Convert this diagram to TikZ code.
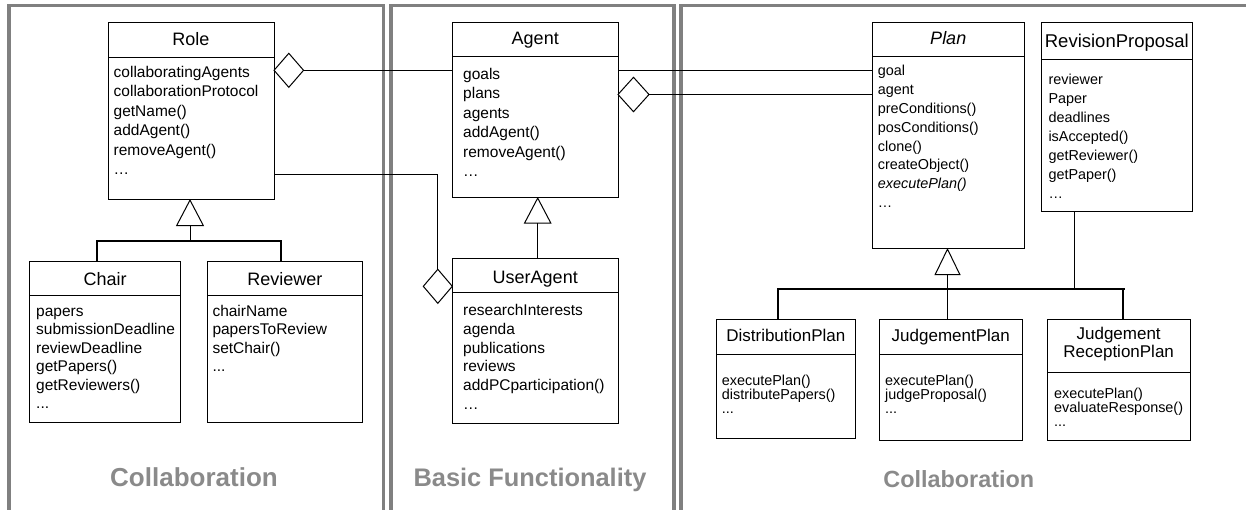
\documentclass[tikz,border=0pt]{standalone}
\usepackage{fontspec}
\setmainfont{Liberation Sans}
\usetikzlibrary{arrows.meta,shapes.geometric}
\definecolor{panelgray}{RGB}{128,128,128}
\definecolor{capgray}{RGB}{138,138,138}
\newcommand\tdots{.\kern0pt.\kern0pt.}
\tikzset{
  cls/.style={draw=black, line width=1pt, rectangle, inner sep=0pt, outer sep=0pt, fill=white},
  divline/.style={draw=black, line width=1pt},
  ttl/.style={anchor=base, inner sep=0pt, font=\fontsize{18}{20}\selectfont},
  ttlsmall/.style={anchor=base, inner sep=0pt, font=\fontsize{17}{19}\selectfont},
  attrL/.style={anchor=base west, inner sep=0pt, font=\fontsize{15.5}{18}\selectfont},
  attrS/.style={anchor=base west, inner sep=0pt, font=\fontsize{14.4}{17}\selectfont},
  agg/.style={draw=black, fill=white, shape=diamond, inner sep=0pt, outer sep=0pt, line width=1pt},
  conn/.style={draw=black, line width=1pt},
  gen/.style={conn, -{Triangle[open, length=27pt, width=28pt]}},
  genbar/.style={draw=black, line width=2pt, line join=miter},
  panel/.style={draw=panelgray, line width=3.5pt, line join=miter},
  caption/.style={anchor=base, inner sep=0pt, text=capgray},
}
\newcommand\umlbox[6]{%
  \node[cls, minimum width={#4-#2}, minimum height={#5-#3}] (#1) at ({(#2+#4)/2},{(#3+#5)/2}) {};
  \draw[divline] (#2,#6) -- (#4,#6);
}
\newcommand\attrs[6]{%
  \foreach \txt [count=\i] in {#6} \node[#2] (#1-\i) at (#3,{#4+#5*(\i-1)}) {\txt};
}
\begin{document}
\begin{tikzpicture}[x=1pt,y=-1pt]
\useasboundingbox (0,0) rectangle (1248,509);
% panels
\draw[panel] (9,512) -- (9,5.5) -- (383.5,5.5) -- (383.5,512);
\draw[panel] (391,512) -- (391,5.5) -- (674,5.5) -- (674,512);
\draw[panel] (681,512) -- (681,5.5) -- (1246,5.5);
% captions
\node[caption, font=\bfseries\fontsize{26}{30}\selectfont] (cap1) at (194,486.7) {Collaboration};
\node[caption, font=\bfseries\fontsize{25.4}{30}\selectfont] (cap2) at (530,486.7) {Basic Functionality};
\node[caption, font=\bfseries\fontsize{23.4}{28}\selectfont] (cap3) at (958.8,487.3) {Collaboration};
% Role
\umlbox{roleB}{108}{22}{274}{199}{57}
\node[ttl] (role) at (191,45) {Role};
\attrs{role}{attrL}{113.5}{77}{19.5}{collaboratingAgents,collaborationProtocol,getName(),addAgent(),removeAgent(),…}
% Agent
\umlbox{agentB}{452.5}{22}{618}{197}{56}
\node[ttl] (agent) at (535.25,44.3) {Agent};
\attrs{agent}{attrL}{463}{79}{19.5}{goals,plans,agents,addAgent(),removeAgent(),…}
% UserAgent
\umlbox{userB}{452.5}{258.5}{618}{423.5}{292.7}
\node[ttl] (user) at (535.25,283.3) {UserAgent};
\attrs{user}{attrL}{463}{315.7}{18.75}{researchInterests,agenda,publications,reviews,addPCparticipation(),…}
% Chair
\umlbox{chairB}{29.5}{261.7}{180.7}{422.3}{295.7}
\node[ttl] (chair) at (105.1,285.7) {Chair};
\attrs{chair}{attrL}{36}{316}{18.5}{papers,submissionDeadline,reviewDeadline,getPapers(),getReviewers(),\tdots}
% Reviewer
\umlbox{revB}{207.3}{261.7}{362.3}{422.3}{295.7}
\node[ttl] (rev) at (284.8,285.7) {Reviewer};
\attrs{rev}{attrL}{212.3}{316}{18.5}{chairName,papersToReview,setChair(),\tdots}
% Plan
\umlbox{planB}{872.5}{22}{1024}{248}{56}
\node[ttl] (plan) at (948.25,44.3) {\itshape Plan};
\attrs{plan}{attrS}{877.7}{75.4}{18.9}{goal,agent,preConditions(),posConditions(),clone(),createObject(),{\itshape executePlan()},…}
% RevisionProposal
\umlbox{rpB}{1041}{22.7}{1192.7}{211}{59.3}
\node[ttl, font=\fontsize{18.5}{20}\selectfont] (rp) at (1116.85,47) {RevisionProposal};
\attrs{rp}{attrS}{1048.3}{84.8}{18.9}{reviewer,Paper,deadlines,isAccepted(),getReviewer(),getPaper(),…}
% DistributionPlan
\umlbox{dpB}{716}{319.3}{855.7}{438.3}{354.3}
\node[ttlsmall] (dp) at (785.85,341.7) {DistributionPlan};
\attrs{dp}{attrS}{721.7}{385}{14}{executePlan(),distributePapers(),\tdots}
% JudgementPlan
\umlbox{jpB}{879.3}{319.3}{1022.3}{440}{354.3}
\node[ttlsmall] (jp) at (950.8,341.7) {JudgementPlan};
\attrs{jp}{attrS}{885}{385}{14}{executePlan(),judgeProposal(),\tdots}
% JudgementReceptionPlan
\umlbox{jrpB}{1047.3}{319.3}{1190}{440}{372}
\node[ttlsmall] (jrp1) at (1118.65,339) {Judgement};
\node[ttlsmall] (jrp2) at (1118.65,357.5) {ReceptionPlan};
\attrs{jrp}{attrS}{1054}{398}{14}{executePlan(),evaluateResponse(),\tdots}
% aggregations
\node[agg, minimum width=29.5, minimum height=34] (d1) at (288.8,70.3) {};
\node[agg, minimum width=31, minimum height=34.4] (d2) at (633.5,94.5) {};
\node[agg, minimum width=29, minimum height=34] (d3) at (437.8,286.3) {};
\draw[conn] (d1.east) -- (agentB.west |- d1.east);
\coordinate (a1) at (618,70.5);
\draw[conn] (agentB.east |- a1) -- (planB.west |- a1);
\draw[conn] (d2.east) -- (planB.west |- d2.east);
\coordinate (b1) at (437.8,174);
\draw[conn] (roleB.east |- b1) -- (b1) -- (d3.north);
% generalizations
\coordinate (g1) at (190,241);
\draw[gen] (g1) -- (g1 |- roleB.south);
\coordinate (bl1) at (96.7,241);
\coordinate (br1) at (281,241);
\draw[genbar] (bl1 |- chairB.north) -- (bl1) -- (br1) -- (br1 |- revB.north);
\coordinate (g2) at (537.7,240);
\draw[conn, -{Triangle[open, length=26.6pt, width=27.7pt]}] (g2 |- userB.north) -- (g2 |- agentB.south);
\coordinate (g3) at (947.5,289);
\draw[conn, -{Triangle[open, length=27pt, width=26pt]}] (g3 |- jpB.north) -- (g3 |- planB.south);
\coordinate (bl3) at (777.7,289);
\coordinate (br3) at (1122.7,289);
\coordinate (be3) at (1125,289);
\draw[genbar] (bl3 |- dpB.north) -- (bl3) -- (be3);
\draw[genbar] (br3) -- (br3 |- jrpB.north);
\coordinate (rp1) at (1074,289);
\draw[conn] (rp1 |- rpB.south) -- (rp1);
\end{tikzpicture}
\end{document}
